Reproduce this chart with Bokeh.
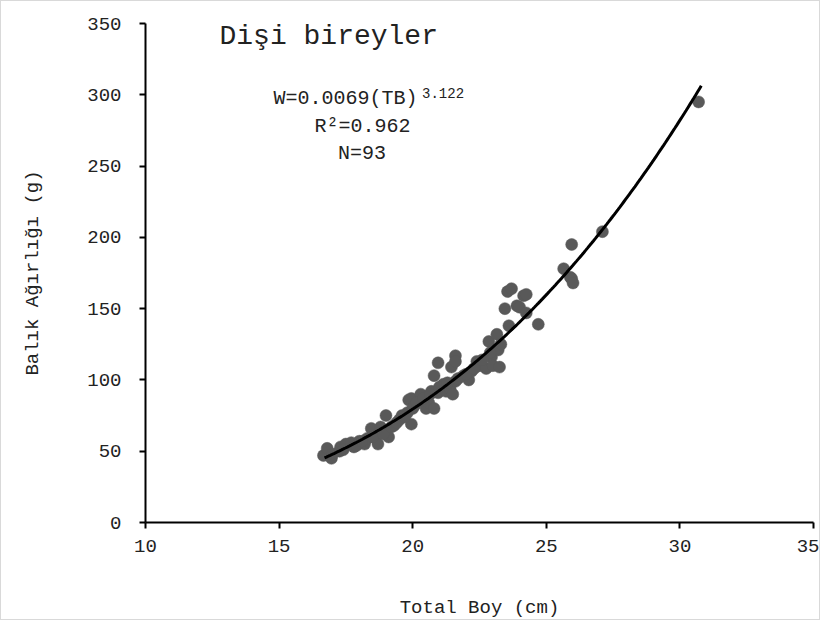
import numpy as np
from bokeh.plotting import figure
from bokeh.models import Range1d, Label, ColumnDataSource
from bokeh.embed import file_html
from bokeh.resources import INLINE

# Total length (cm) and weight (g) of females
length_cm = [16.66, 16.8, 16.96, 17.26, 17.3, 17.5, 17.7, 17.8, 18.0, 18.2,
             18.3, 18.45, 18.6, 18.7, 18.8, 19.0, 19.0, 19.1, 19.3, 19.5,
             19.6, 19.8, 19.85, 19.95, 19.95, 20.07, 20.25, 20.3, 20.5, 20.6,
             20.7, 20.8, 20.8, 20.95, 20.95, 21.15, 21.25, 21.4, 21.45, 21.5,
             21.6, 21.6, 21.6, 21.9, 22.1, 22.2, 22.4, 22.5, 22.75, 22.85,
             22.95, 23.0, 23.15, 23.2, 23.25, 23.3, 23.45, 23.55, 23.7, 23.6,
             23.9, 24.0, 24.15, 24.25, 24.25, 24.7, 25.65, 25.9, 25.95, 25.95,
             26.0, 27.1, 30.7,
             17.0, 17.4, 17.9, 18.1, 18.5, 18.9, 19.2, 19.4, 19.7, 20.0,
             20.15, 20.4, 20.65, 21.0, 21.3, 21.7, 22.0, 22.3, 22.6, 22.9]
weight_g = [47, 52, 45, 50, 53, 55, 56, 53, 57, 55,
            59, 66, 61, 55, 67, 63, 75, 60, 68, 72,
            75, 77, 86, 87, 69, 82, 86, 90, 80, 84,
            92, 103, 80, 91, 112, 97, 92, 94, 109, 90,
            99, 117, 113, 103, 100, 106, 113, 110, 108, 127,
            116, 110, 132, 121, 109, 125, 150, 162, 164, 138,
            152, 151, 159, 160, 147, 139, 178, 172, 195, 171,
            168, 204, 295,
            48, 51, 54, 57, 60, 62, 67, 70, 74, 80,
            84, 87, 90, 95, 98, 101, 104, 108, 114, 119]

# Fitted length-weight relationship W = a * TB^b
fit_a = 0.0069
fit_b = 3.122
fit_r2 = 0.962
n_fish = 93
fit_range = (16.7, 30.8)

x_ticks = [10, 15, 20, 25, 30, 35]
y_ticks = [0, 50, 100, 150, 200, 250, 300, 350]

FONT = "Liberation Mono"

p = figure(width=820, height=620, output_backend="svg", toolbar_location=None,
           x_range=Range1d(10, 35), y_range=Range1d(0, 350),
           min_border_left=144, min_border_right=8, min_border_top=22,
           min_border_bottom=98)
p.outline_line_color = None
p.xgrid.visible = False
p.ygrid.visible = False
p.background_fill_color = "white"
p.border_fill_color = "white"
p.styles = {"border": "1px solid #d9d9d9"}

src = ColumnDataSource(dict(x=length_cm, y=weight_g))
p.scatter("x", "y", source=src, size=12, fill_color="#595959",
          line_color="#595959", line_width=0.5)

xf = np.linspace(fit_range[0], fit_range[1], 200)
yf = fit_a * xf ** fit_b
p.line(xf, yf, line_color="black", line_width=3)

for ax in (p.xaxis[0], p.yaxis[0]):
    ax.axis_line_color = "black"
    ax.axis_line_width = 2
    ax.major_tick_line_color = "black"
    ax.major_tick_line_width = 2
    ax.major_tick_out = 6
    ax.major_tick_in = 0
    ax.minor_tick_line_color = None
    ax.major_label_text_font = FONT
    ax.major_label_text_font_size = "19px"
    ax.major_label_text_color = "#222222"
    ax.axis_label_text_font = FONT
    ax.axis_label_text_font_size = "19px"
    ax.axis_label_text_font_style = "normal"
    ax.axis_label_text_color = "#222222"

p.xaxis.ticker = x_ticks
p.yaxis.ticker = y_ticks
p.xaxis.axis_label = "Total Boy (cm)"
p.yaxis.axis_label = "Balık Ağırlığı (g)"
p.xaxis.major_label_standoff = 11
p.xaxis.axis_label_standoff = 42
p.yaxis.major_label_standoff = 18
p.yaxis.axis_label_standoff = 40

p.add_layout(Label(x=12.77, y=341, text="Dişi bireyler", text_font=FONT,
                   text_font_size="28px", text_color="#222222",
                   text_baseline="middle"))
p.add_layout(Label(x=14.79, y=297.5, text=f"W={fit_a}(TB)", text_font=FONT,
                   text_font_size="20px", text_color="#222222",
                   text_baseline="middle"))
p.add_layout(Label(x=20.35, y=301.5, text=f"{fit_b}", text_font=FONT,
                   text_font_size="14px", text_color="#222222",
                   text_baseline="middle"))
p.add_layout(Label(x=18.12, y=278, text=f"R²={fit_r2}", text_font=FONT,
                   text_font_size="20px", text_color="#222222",
                   text_baseline="middle", text_align="center"))
p.add_layout(Label(x=18.1, y=259, text=f"N={n_fish}", text_font=FONT,
                   text_font_size="20px", text_color="#222222",
                   text_baseline="middle", text_align="center"))

open("out.html", "w").write(file_html(p, INLINE))
